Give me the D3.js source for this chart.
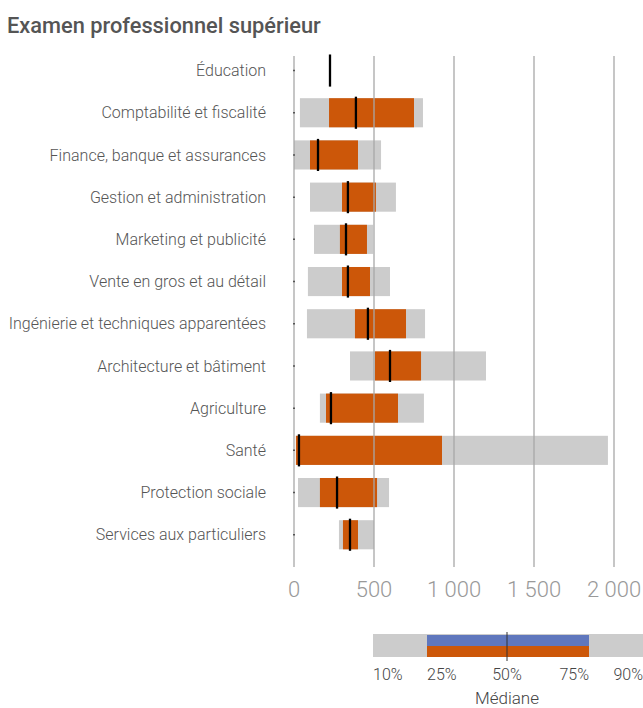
<!DOCTYPE html>
<html><head><meta charset="utf-8">
<script src="https://cdn.jsdelivr.net/npm/d3@7"></script>
<style>
body{margin:0;background:#fff;}
svg{display:block;font-family:Roboto,"Noto Sans",sans-serif;}
</style></head>
<body>
<script>
const title = "Examen professionnel supérieur";
const categories = ["Éducation","Comptabilité et fiscalité","Finance, banque et assurances","Gestion et administration","Marketing et publicité","Vente en gros et au détail","Ingénierie et techniques apparentées","Architecture et bâtiment","Agriculture","Santé","Protection sociale","Services aux particuliers"];
const p10 = [null, 37, 0, 100, 125, 87, 81, 350, 162, 12, 25, 281];
const p25 = [null, 219, 100, 300, 287, 300, 381, 506, 200, 12, 162, 306];
const p50 = [225, 387, 150, 337, 325, 337, 462, 600, 231, 31, 269, 350];
const p75 = [null, 750, 400, 512, 456, 475, 700, 794, 650, 925, 519, 400];
const p90 = [null, 806, 544, 637, 495, 600, 819, 1200, 812, 1962, 594, 500];
const xTicks = [0, 500, 1000, 1500, 2000];
const legendStops = [0.10, 0.25, 0.50, 0.75, 0.90];
const legendLabels = ["10%", "25%", "50%", "75%", "90%"];
const legendTitle = "Médiane";

const W = 643, H = 708;
const svg = d3.select("body").append("svg").attr("width", W).attr("height", H);
const fr = d3.formatLocale({decimal:",", thousands:"\u00a0", grouping:[3], currency:["","€"]});
const fmt = fr.format(",");

const x = d3.scaleLinear().domain([0, 2000]).range([294, 614]);
const y = d3.scaleBand().domain(categories).range([42.9, 562.4]).padding(0.31);
const bw = y.bandwidth();
const rows = categories.map((c, i) => ({c, p10: p10[i], p25: p25[i], p50: p50[i], p75: p75[i], p90: p90[i]}));

svg.append("text").attr("x", 7).attr("y", 33).text(title)
  .attr("font-size", 21.8).attr("font-weight", 500).attr("fill", "#555");

// category labels
svg.append("g").selectAll("text").data(rows).join("text")
  .attr("x", 266).attr("y", d => y(d.c) + bw / 2).attr("dy", "0.35em")
  .attr("text-anchor", "end").attr("font-size", 16).attr("font-weight", 300).attr("fill", "#555")
  .text(d => d.c);

const bars = rows.filter(d => d.p10 != null);
svg.append("g").selectAll("rect").data(bars).join("rect")
  .attr("x", d => x(d.p10)).attr("width", d => x(d.p90) - x(d.p10))
  .attr("y", d => y(d.c)).attr("height", bw).attr("fill", "#cccccc");
svg.append("g").selectAll("rect").data(bars).join("rect")
  .attr("x", d => x(d.p25)).attr("width", d => x(d.p75) - x(d.p25))
  .attr("y", d => y(d.c)).attr("height", bw).attr("fill", "#cc5709");

// gridlines on top
svg.append("g").selectAll("line").data(xTicks).join("line")
  .attr("x1", d => x(d)).attr("x2", d => x(d)).attr("y1", 56).attr("y2", 567)
  .attr("stroke", "#a8a8a8").attr("stroke-opacity", 0.65).attr("stroke-width", 2);

// y ticks
svg.append("g").selectAll("line").data(rows).join("line")
  .attr("x1", x(0) - 1).attr("x2", x(0) + 1)
  .attr("y1", d => y(d.c) + bw / 2).attr("y2", d => y(d.c) + bw / 2)
  .attr("stroke", "#555").attr("stroke-width", 1.5);

// medians
svg.append("g").selectAll("line").data(rows).join("line")
  .attr("x1", d => x(d.p50)).attr("x2", d => x(d.p50))
  .attr("y1", d => y(d.c) - 1.5).attr("y2", d => y(d.c) + bw + 1.5)
  .attr("stroke", "#000").attr("stroke-width", 2.3);

// x axis labels
svg.append("g").selectAll("text").data(xTicks).join("text")
  .attr("x", d => x(d)).attr("y", 597).attr("text-anchor", "middle")
  .attr("font-size", 22).attr("font-weight", 300).attr("fill", "#999")
  .text(d => fmt(d));

// legend (schematic piecewise scale)
const lx = d3.scaleLinear().domain(legendStops).range([373, 427, 507, 589, 643]);
const lg = svg.append("g");
lg.append("rect").attr("x", lx(0.10)).attr("width", lx(0.90) - lx(0.10)).attr("y", 634).attr("height", 23).attr("fill", "#cccccc");
lg.append("rect").attr("x", lx(0.25)).attr("width", lx(0.75) - lx(0.25)).attr("y", 635).attr("height", 11).attr("fill", "#5f77bd");
lg.append("rect").attr("x", lx(0.25)).attr("width", lx(0.75) - lx(0.25)).attr("y", 646).attr("height", 11).attr("fill", "#cc5709");
lg.append("line").attr("x1", lx(0.5)).attr("x2", lx(0.5)).attr("y1", 632).attr("y2", 661).attr("stroke", "#333").attr("stroke-width", 1);
const anchors = ["start", "start", "middle", "end", "end"];
lg.selectAll("text.l").data(legendStops).join("text").attr("class", "l")
  .attr("x", d => lx(d)).attr("y", 680).attr("text-anchor", (d, i) => anchors[i])
  .attr("font-size", 16).attr("font-weight", 300).attr("fill", "#444")
  .text((d, i) => legendLabels[i]);
lg.append("text").attr("x", lx(0.5)).attr("y", 704).attr("text-anchor", "middle")
  .attr("font-size", 17).attr("font-weight", 300).attr("fill", "#444").text(legendTitle);
</script>
</body></html>
